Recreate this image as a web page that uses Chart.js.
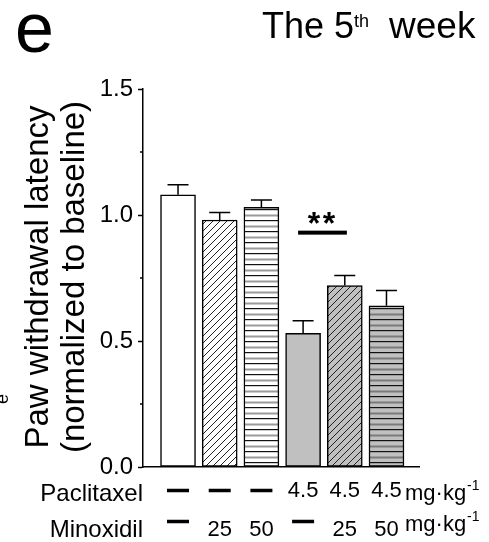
<!DOCTYPE html>
<html>
<head>
<meta charset="utf-8">
<script src="https://cdn.jsdelivr.net/npm/chart.js@4.4.0/dist/chart.umd.min.js"></script>
<style>
    html, body { margin: 0; padding: 0; background: #fff; }
    #wrap { width: 489px; height: 542px; }
</style>
</head>
<body>
<div id="wrap"><canvas id="chart"></canvas></div>
<script>
// values
const paclitaxelDose = ["-", "-", "-", "4.5", "4.5", "4.5"];
const minoxidilDose = ["-", "25", "50", "-", "25", "50"];
const latency = [1.08, 0.98, 1.03, 0.53, 0.72, 0.64];
const latencyErr = [0.04, 0.03, 0.03, 0.05, 0.04, 0.06];
const yTicks = [0, 0.5, 1.0, 1.5];
const yMinorTicks = [0.25, 0.75, 1.25];

const FONT = "'Liberation Sans', Arial, Helvetica, sans-serif";
const GRAY = "#c0c0c0";

// hatch fills
function diagonalPattern(bg) {
    const c = document.createElement("canvas");
    c.width = 7; c.height = 7;
    const g = c.getContext("2d");
    g.fillStyle = bg;
    g.fillRect(0, 0, 7, 7);
    g.strokeStyle = "#222";
    g.lineWidth = 1;
    g.beginPath();
    g.moveTo(0, 7); g.lineTo(7, 0);
    g.moveTo(-1, 1); g.lineTo(1, -1);
    g.moveTo(6, 8); g.lineTo(8, 6);
    g.stroke();
    return g.createPattern(c, "repeat");
}

function horizontalPattern(bg, second) {
    const c = document.createElement("canvas");
    c.width = 4; c.height = 11;
    const g = c.getContext("2d");
    g.fillStyle = bg;
    g.fillRect(0, 0, 4, 11);
    g.fillStyle = "#111";
    g.fillRect(0, 0, 4, 1.2);
    g.fillStyle = second;
    g.fillRect(0, 5.5, 4, 2);
    return g.createPattern(c, "repeat");
}

const fills = [
    "#ffffff",
    diagonalPattern("#ffffff"),
    horizontalPattern("#ffffff", "#9a9a9a"),
    GRAY,
    diagonalPattern(GRAY),
    horizontalPattern(GRAY, "#7a7a7a")
];

const panelPlugin = {
    id: "panelText",
    afterDatasetsDraw(chart) {
        const ctx = chart.ctx;
        const xs = chart.scales.x, ys = chart.scales.y;
        ctx.save();
        ctx.strokeStyle = "#000";
        ctx.fillStyle = "#000";

        // minor y ticks
        ctx.lineWidth = 1.5;
        yMinorTicks.forEach(v => {
            const py = ys.getPixelForValue(v);
            ctx.beginPath();
            ctx.moveTo(xs.left - 3, py);
            ctx.lineTo(xs.left, py);
            ctx.stroke();
        });

        // error bars (upper only)
        latency.forEach((v, i) => {
            const px = xs.getPixelForValue(i + 1);
            const y0 = ys.getPixelForValue(v);
            const y1 = ys.getPixelForValue(v + latencyErr[i]);
            ctx.beginPath();
            ctx.moveTo(px, y0);
            ctx.lineTo(px, y1);
            ctx.moveTo(px - 10.5, y1);
            ctx.lineTo(px + 10.5, y1);
            ctx.stroke();
        });

        // significance bar
        const sy = ys.getPixelForValue(0.93);
        const sx1 = xs.getPixelForValue(3.88), sx2 = xs.getPixelForValue(5.05);
        ctx.fillRect(sx1, sy - 2, sx2 - sx1, 4);
        ctx.font = "bold 32px " + FONT;
        ctx.textAlign = "center";
        ctx.textBaseline = "alphabetic";
        const sc = (sx1 + sx2) / 2 - 1;
        ctx.fillText("*", sc - 7.5, sy + 1);
        ctx.fillText("*", sc + 7.5, sy + 1);

        // dose rows under the axis
        ctx.font = "24px " + FONT;
        ctx.textAlign = "right";
        ctx.fillText("Paclitaxel", xs.left, 501);
        ctx.fillText("Minoxidil", xs.left, 537);
        ctx.font = "22px " + FONT;
        ctx.textAlign = "center";
        const rows = [[paclitaxelDose, 497, 490.5], [minoxidilDose, 536, 521.5]];
        rows.forEach(([doses, base, dashY]) => {
            doses.forEach((d, i) => {
                const px = xs.getPixelForValue(i + 1);
                if (d === "-") {
                    ctx.fillRect(px - 11, dashY - 1.75, 22, 3.5);
                } else {
                    ctx.fillText(d, px, base);
                }
            });
        });
        // units
        ctx.textAlign = "left";
        [[500, 405], [531, 405]].forEach(([base, ux]) => {
            ctx.font = "22px " + FONT;
            ctx.fillText("mg\u00b7kg", ux, base);
            const w = ctx.measureText("mg\u00b7kg").width;
            ctx.font = "14px " + FONT;
            ctx.fillText("-1", ux + w + 1, base - 10);
        });

        // y axis title
        ctx.font = "33px " + FONT;
        ctx.textAlign = "center";
        ctx.textBaseline = "middle";
        ctx.translate(0, 277);
        ctx.rotate(-Math.PI / 2);
        ctx.fillText("Paw withdrawal latency", 0, 39);
        ctx.fillText("(normalized to baseline)", 0, 75);
        ctx.setTransform(1, 0, 0, 1, 0, 0);

        // cut-off letter from the neighbouring panel
        ctx.font = "18px " + FONT;
        ctx.translate(3, 399);
        ctx.rotate(-Math.PI / 2);
        ctx.fillText("e", 0, 0);
        ctx.setTransform(1, 0, 0, 1, 0, 0);

        // panel letter
        ctx.textBaseline = "alphabetic";
        ctx.textAlign = "left";
        ctx.font = "70px " + FONT;
        ctx.fillText("e", 15, 52);

        // title
        ctx.font = "36px " + FONT;
        ctx.fillText("The 5", 262, 38);
        ctx.font = "18px " + FONT;
        ctx.fillText("th", 354, 27);
        ctx.font = "37px " + FONT;
        ctx.fillText("week", 389, 38);
        ctx.restore();
    }
};

new Chart(document.getElementById("chart"), {
    type: "bar",
    data: {
        datasets: [{
            data: latency.map((v, i) => ({ x: i + 1, y: v })),
            backgroundColor: fills,
            borderColor: "#000",
            borderWidth: 1.5,
            borderSkipped: false,
            barThickness: 35
        }]
    },
    options: {
        responsive: true,
        maintainAspectRatio: false,
        animation: false,
        devicePixelRatio: 1,
        layout: { padding: { top: 89, right: 70, left: 0, bottom: 0 } },
        plugins: {
            legend: { display: false },
            tooltip: { enabled: false },
            title: { display: false }
        },
        scales: {
            x: {
                type: "linear",
                min: 0.16,
                max: 6.78,
                offset: false,
                grid: { display: false },
                ticks: { display: false },
                border: { display: true, color: "#000", width: 1.5 },
                afterFit(scale) { scale.height = 75; }
            },
            y: {
                min: 0,
                max: 1.5,
                afterBuildTicks(scale) { scale.ticks = yTicks.map(v => ({ value: v })); },
                ticks: {
                    color: "#000",
                    font: { family: FONT, size: 24 },
                    padding: 5,
                    callback: v => v.toFixed(1)
                },
                grid: { drawOnChartArea: false, tickLength: 5, tickColor: "#000", tickWidth: 1.5 },
                border: { display: true, color: "#000", width: 1.5 },
                afterFit(scale) { scale.width = 143; }
            }
        }
    },
    plugins: [panelPlugin]
});
</script>
</body>
</html>
